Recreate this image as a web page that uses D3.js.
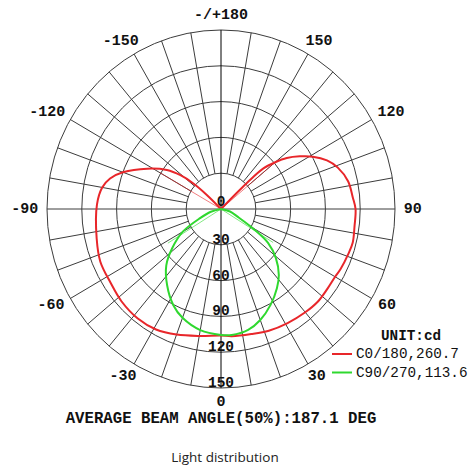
<!DOCTYPE html>
<html>
<head>
<meta charset="utf-8">
<script src="https://cdn.jsdelivr.net/npm/d3@7"></script>
<style>
  body { margin: 0; background: #fff; }
  text { font-family: 'Liberation Mono', 'Courier New', monospace; fill: #111; }
</style>
</head>
<body>
<div id="chart"></div>
<script>
// Ring values (chart units) and labels along the 0 axis
const ringValues = [30, 60, 90, 120, 150]
const ringLabels = [0, 30, 60, 90, 120, 150]
const angleLabels = [180, 150, 120, 90, 60, 30, 0, -30, -60, -90, -120, -150]
const spokeAngles = d3.range(-170, 190, 10)

// C0/180 plane, [angle, value]
const c0Curve = [
  [-136, 0], [-134, 17], [-132, 32], [-129, 45], [-125, 57], [-118, 72],
  [-110, 90], [-105, 99], [-100, 104], [-92, 107], [-77, 110], [-67, 113],
  [-57, 113.5], [-48, 115.5], [-38, 116.5], [-29, 115.5], [-20, 112],
  [-10, 108], [0, 106], [5, 107], [14, 108], [22, 110], [31, 111.5],
  [40, 113], [47, 114], [54, 113.5], [60, 113.6], [64, 114.7], [71, 116],
  [76, 117], [83, 116], [90, 116], [95, 114], [102, 112], [109, 106.5],
  [114, 100], [119, 90.5], [123, 81], [127, 71], [130, 61], [133, 50],
  [134, 38], [134.5, 26], [135, 14], [136, 0]
]
// C90/270 plane, [angle, value]
const c90Curve = [
  [-90, 0], [-75, 9], [-67, 19.6], [-60, 38], [-52, 53.4], [-45, 66.7],
  [-36, 79], [-27, 90.5], [-20, 97], [-10, 103], [0, 105.5], [5, 106],
  [13, 104], [20, 99], [28, 91], [36, 82], [42, 74.5], [49, 62.7],
  [55, 49.5], [59, 34], [65.5, 16], [75, 8], [90, 0]
]
// thin radial strokes running back to the centre, [angle, value]
const c0Spokes = [[-120, 61], [130, 62]]
const c90Spokes = [[-58, 54], [58, 53]]

const legendItems = [
  { name: 'C0/180,260.7', color: '#e8262a', curve: c0Curve, spokes: c0Spokes },
  { name: 'C90/270,113.6', color: '#2fd82f', curve: c90Curve, spokes: c90Spokes }
]

const width = 472
const height = 468
const cx = 221
const cy = 209

// picture is slightly squashed, so x and y radii differ
const rX = d3.scaleLinear().domain([0, 150]).range([0, 174])
const rY = d3.scaleLinear().domain([0, 150]).range([0, 179])
const rad = (a) => a * Math.PI / 180
const px = (a, v) => cx + rX(v) * Math.sin(rad(a))
const py = (a, v) => cy + rY(v) * Math.cos(rad(a))

const svg = d3.select('#chart')
  .append('svg')
  .attr('width', width)
  .attr('height', height)

const grid = svg.append('g')
  .attr('fill', 'none')
  .attr('stroke', '#3c3c3c')
  .attr('stroke-width', 1)

// rings
grid.selectAll('ellipse')
  .data(ringValues)
  .join('ellipse')
  .attr('cx', cx)
  .attr('cy', cy)
  .attr('rx', (v) => rX(v))
  .attr('ry', (v) => rY(v))

// spokes every 10 deg, starting at the first ring (axes go through centre)
grid.selectAll('line')
  .data(spokeAngles.filter((a) => a % 90 !== 0))
  .join('line')
  .attr('x1', (a) => px(a, ringValues[0]))
  .attr('y1', (a) => py(a, ringValues[0]))
  .attr('x2', (a) => px(a, 150))
  .attr('y2', (a) => py(a, 150))

grid.append('line')
  .attr('x1', px(-90, 150)).attr('y1', py(-90, 150))
  .attr('x2', px(90, 150)).attr('y2', py(90, 150))

grid.append('line')
  .attr('stroke', '#000')
  .attr('x1', px(180, 150)).attr('y1', py(180, 150))
  .attr('x2', px(0, 150)).attr('y2', py(0, 150))

// angle labels round the outside
const labelFont = 15
svg.append('g')
  .selectAll('text')
  .data(angleLabels)
  .join('text')
  .attr('font-size', labelFont)
  .attr('font-weight', 'bold')
  .attr('text-anchor', 'middle')
  .attr('dominant-baseline', 'central')
  .text((a) => a === 180 ? '-/+180' : String(a))
  .attr('x', function (a) {
    const w = this.getComputedTextLength()
    return cx + Math.sin(rad(a)) * (rX(150) * 1.05 + w / 2)
  })
  .attr('y', (a) => cy + Math.cos(rad(a)) * (rY(150) * 1.06 + 3.5))

// ring labels down the 0 axis
svg.append('g')
  .selectAll('text')
  .data(ringLabels)
  .join('text')
  .attr('font-size', 14.5)
  .attr('font-weight', 'bold')
  .attr('text-anchor', 'middle')
  .attr('dominant-baseline', 'central')
  .attr('x', cx)
  .attr('y', (v) => py(0, v) - (v === 0 ? 7 : 5))
  .text((v) => v)

// curves
const line = d3.line()
  .x((d) => px(d[0], d[1]))
  .y((d) => py(d[0], d[1]))
  .curve(d3.curveCatmullRom.alpha(0.5))

legendItems.forEach((s) => {
  svg.append('g')
    .selectAll('line')
    .data(s.spokes)
    .join('line')
    .attr('stroke', s.color)
    .attr('stroke-opacity', 0.6)
    .attr('stroke-width', 1)
    .attr('x1', cx)
    .attr('y1', cy)
    .attr('x2', (d) => px(d[0], d[1]))
    .attr('y2', (d) => py(d[0], d[1]))

  svg.append('path')
    .datum(s.curve)
    .attr('fill', 'none')
    .attr('stroke', s.color)
    .attr('stroke-width', 2)
    .attr('d', line)
})

// legend
const legend = svg.append('g').attr('transform', 'translate(332,0)')
legend.append('text')
  .attr('x', 49)
  .attr('y', 340)
  .attr('font-size', 14.3)
  .attr('font-weight', 'bold')
  .text('UNIT:cd')

const rows = legend.selectAll('g.row')
  .data(legendItems)
  .join('g')
  .attr('class', 'row')
  .attr('transform', (d, i) => `translate(0,${354 + i * 18.5})`)
rows.append('line')
  .attr('x1', 0).attr('x2', 20)
  .attr('stroke', (d) => d.color)
  .attr('stroke-width', 2)
rows.append('text')
  .attr('x', 24)
  .attr('dominant-baseline', 'central')
  .attr('font-size', 14.3)
  .text((d) => d.name)

// footer texts
svg.append('text')
  .attr('x', cx)
  .attr('y', 419)
  .attr('text-anchor', 'middle')
  .attr('dominant-baseline', 'central')
  .attr('font-size', 15.7)
  .attr('font-weight', 'bold')
  .text('AVERAGE BEAM ANGLE(50%):187.1 DEG')

svg.append('text')
  .attr('x', 225)
  .attr('y', 457)
  .attr('text-anchor', 'middle')
  .attr('dominant-baseline', 'central')
  .attr('font-size', 13.5)
  .style('font-family', "'Open Sans', sans-serif")
  .style('fill', '#222')
  .text('Light distribution')
</script>
</body>
</html>
